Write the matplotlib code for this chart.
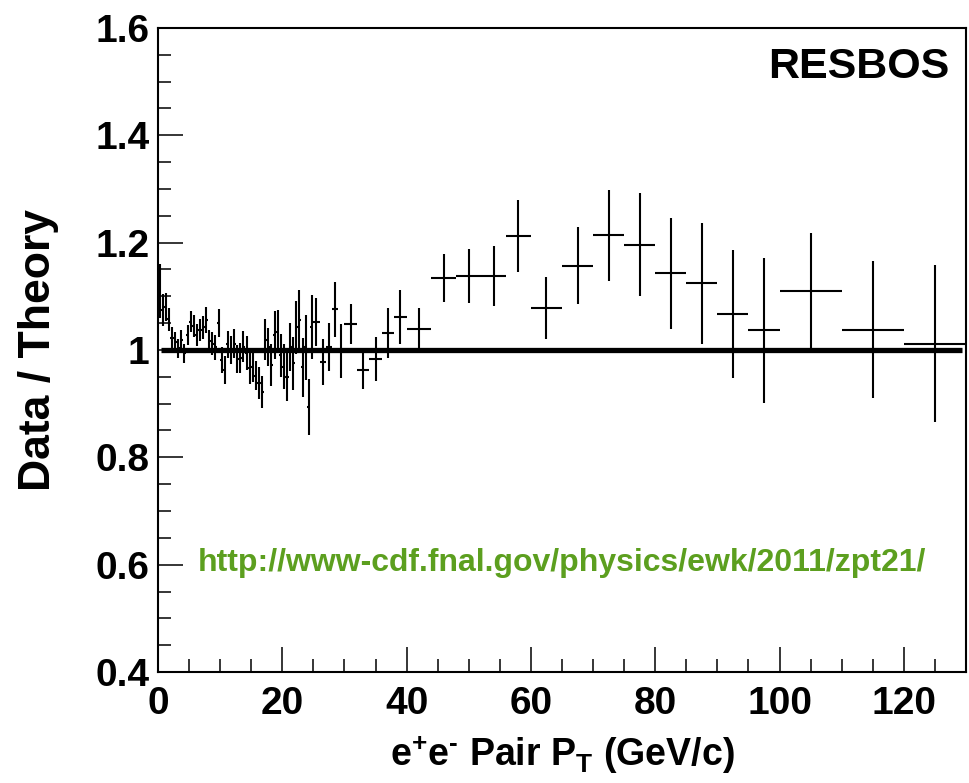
import numpy as np
import matplotlib
matplotlib.use('Agg')
import matplotlib.pyplot as plt
from matplotlib.ticker import MultipleLocator

plt.rcParams['font.family'] = ['Liberation Sans', 'DejaVu Sans']
plt.rcParams['font.weight'] = 'bold'
plt.rcParams['mathtext.fontset'] = 'custom'
plt.rcParams['mathtext.rm'] = 'Liberation Sans:bold'
plt.rcParams['mathtext.it'] = 'Liberation Sans:bold'
plt.rcParams['mathtext.bf'] = 'Liberation Sans:bold'

# bin edges in pT (GeV/c)
bin_edges = np.concatenate([
    np.arange(0, 25, 0.5),
    np.arange(25, 30, 1.0),
    np.arange(30, 40, 2.0),
    np.arange(40, 60, 4.0),
    np.arange(60, 100, 5.0),
    [100, 110, 120, 130],
])

ratio = [
    1.110, 1.075, 1.080, 1.057, 1.022, 1.015, 1.003, 1.019, 0.994, 1.028,
    1.053, 1.045, 1.028, 1.037, 1.042, 1.056, 1.016, 1.012, 1.005, 1.051,
    0.981, 0.962, 1.011, 1.000, 1.012, 0.984, 0.985, 1.006, 0.994, 0.966,
    0.968, 0.952, 0.938, 0.922, 1.019, 1.006, 0.972, 1.028, 1.034, 0.990,
    0.969, 0.950, 1.006, 0.975, 1.042, 1.056, 0.968, 1.005, 0.894, 1.043,
    1.052, 0.978, 1.006, 1.076, 0.998,
    1.048, 0.963, 0.983, 1.032, 1.061,
    1.039, 1.134, 1.138, 1.138, 1.212,
    1.078, 1.157, 1.214, 1.196, 1.143, 1.124, 1.067, 1.037,
    1.110, 1.038, 1.012,
]

ratio_err = [
    0.050, 0.030, 0.026, 0.022, 0.020, 0.018, 0.017, 0.018, 0.018, 0.018,
    0.020, 0.020, 0.020, 0.020, 0.021, 0.025, 0.022, 0.022, 0.023, 0.026,
    0.024, 0.026, 0.025, 0.027, 0.027, 0.026, 0.028, 0.029, 0.032, 0.030,
    0.028, 0.027, 0.030, 0.030, 0.038, 0.035, 0.040, 0.045, 0.040, 0.040,
    0.042, 0.045, 0.045, 0.050, 0.050, 0.055, 0.055, 0.060, 0.052, 0.060,
    0.045, 0.043, 0.045, 0.051, 0.050,
    0.037, 0.036, 0.041, 0.046, 0.050,
    0.039, 0.044, 0.050, 0.056, 0.067,
    0.058, 0.072, 0.085, 0.096, 0.103, 0.113, 0.119, 0.135,
    0.108, 0.128, 0.146,
]

theory_ratio = 1.0

centers = 0.5 * (bin_edges[:-1] + bin_edges[1:])
half_w = 0.5 * (bin_edges[1:] - bin_edges[:-1])

fig = plt.figure(figsize=(9.70, 7.83), dpi=100)
ax = fig.add_axes([158 / 970, 1 - 672 / 783, 808 / 970, 644 / 783])

ax.errorbar(centers, ratio, xerr=half_w, yerr=ratio_err, fmt='none',
            ecolor='black', elinewidth=1.5, capsize=0, zorder=2)
ax.hlines(theory_ratio, bin_edges[1], bin_edges[-1] - 0.7, color='black',
          linewidth=3.8, zorder=3)

ax.set_xlim(0, 130)
ax.set_ylim(0.4, 1.6)
ax.xaxis.set_major_locator(MultipleLocator(20))
ax.xaxis.set_minor_locator(MultipleLocator(5))
ax.yaxis.set_minor_locator(MultipleLocator(0.05))
ax.set_yticks([0.4, 0.6, 0.8, 1.0, 1.2, 1.4, 1.6])
ax.set_yticklabels(['0.4', '0.6', '0.8', '1', '1.2', '1.4', '1.6'])

ax.tick_params(which='both', direction='in', top=False, right=False,
               width=1.1, labelsize=28)
ax.tick_params(which='major', length=18)
ax.tick_params(which='minor', length=9.5)
ax.tick_params(axis='x', pad=10)
ax.tick_params(axis='y', pad=6)
for s in ax.spines.values():
    s.set_linewidth(1.5)

ax.set_xlabel(r'e$^{+}$e$^{\text{-}}$ Pair P$_{T}$ (GeV/c)', fontsize=27,
              fontweight='bold')
ax.xaxis.set_label_coords(0.5, -0.095)
ax.set_ylabel('Data / Theory', fontsize=32, fontweight='bold')
ax.yaxis.set_label_coords(-0.122, 0.5)

ax.text(0.98, 0.94, 'RESBOS', transform=ax.transAxes, ha='right',
        va='center', fontsize=31, fontweight='bold')
ax.text(0.5, 0.17, 'http://www-cdf.fnal.gov/physics/ewk/2011/zpt21/',
        transform=ax.transAxes, ha='center', va='center', fontsize=23,
        fontweight='bold', color='#5c9f1f')

fig.savefig('out.png', dpi=100)
